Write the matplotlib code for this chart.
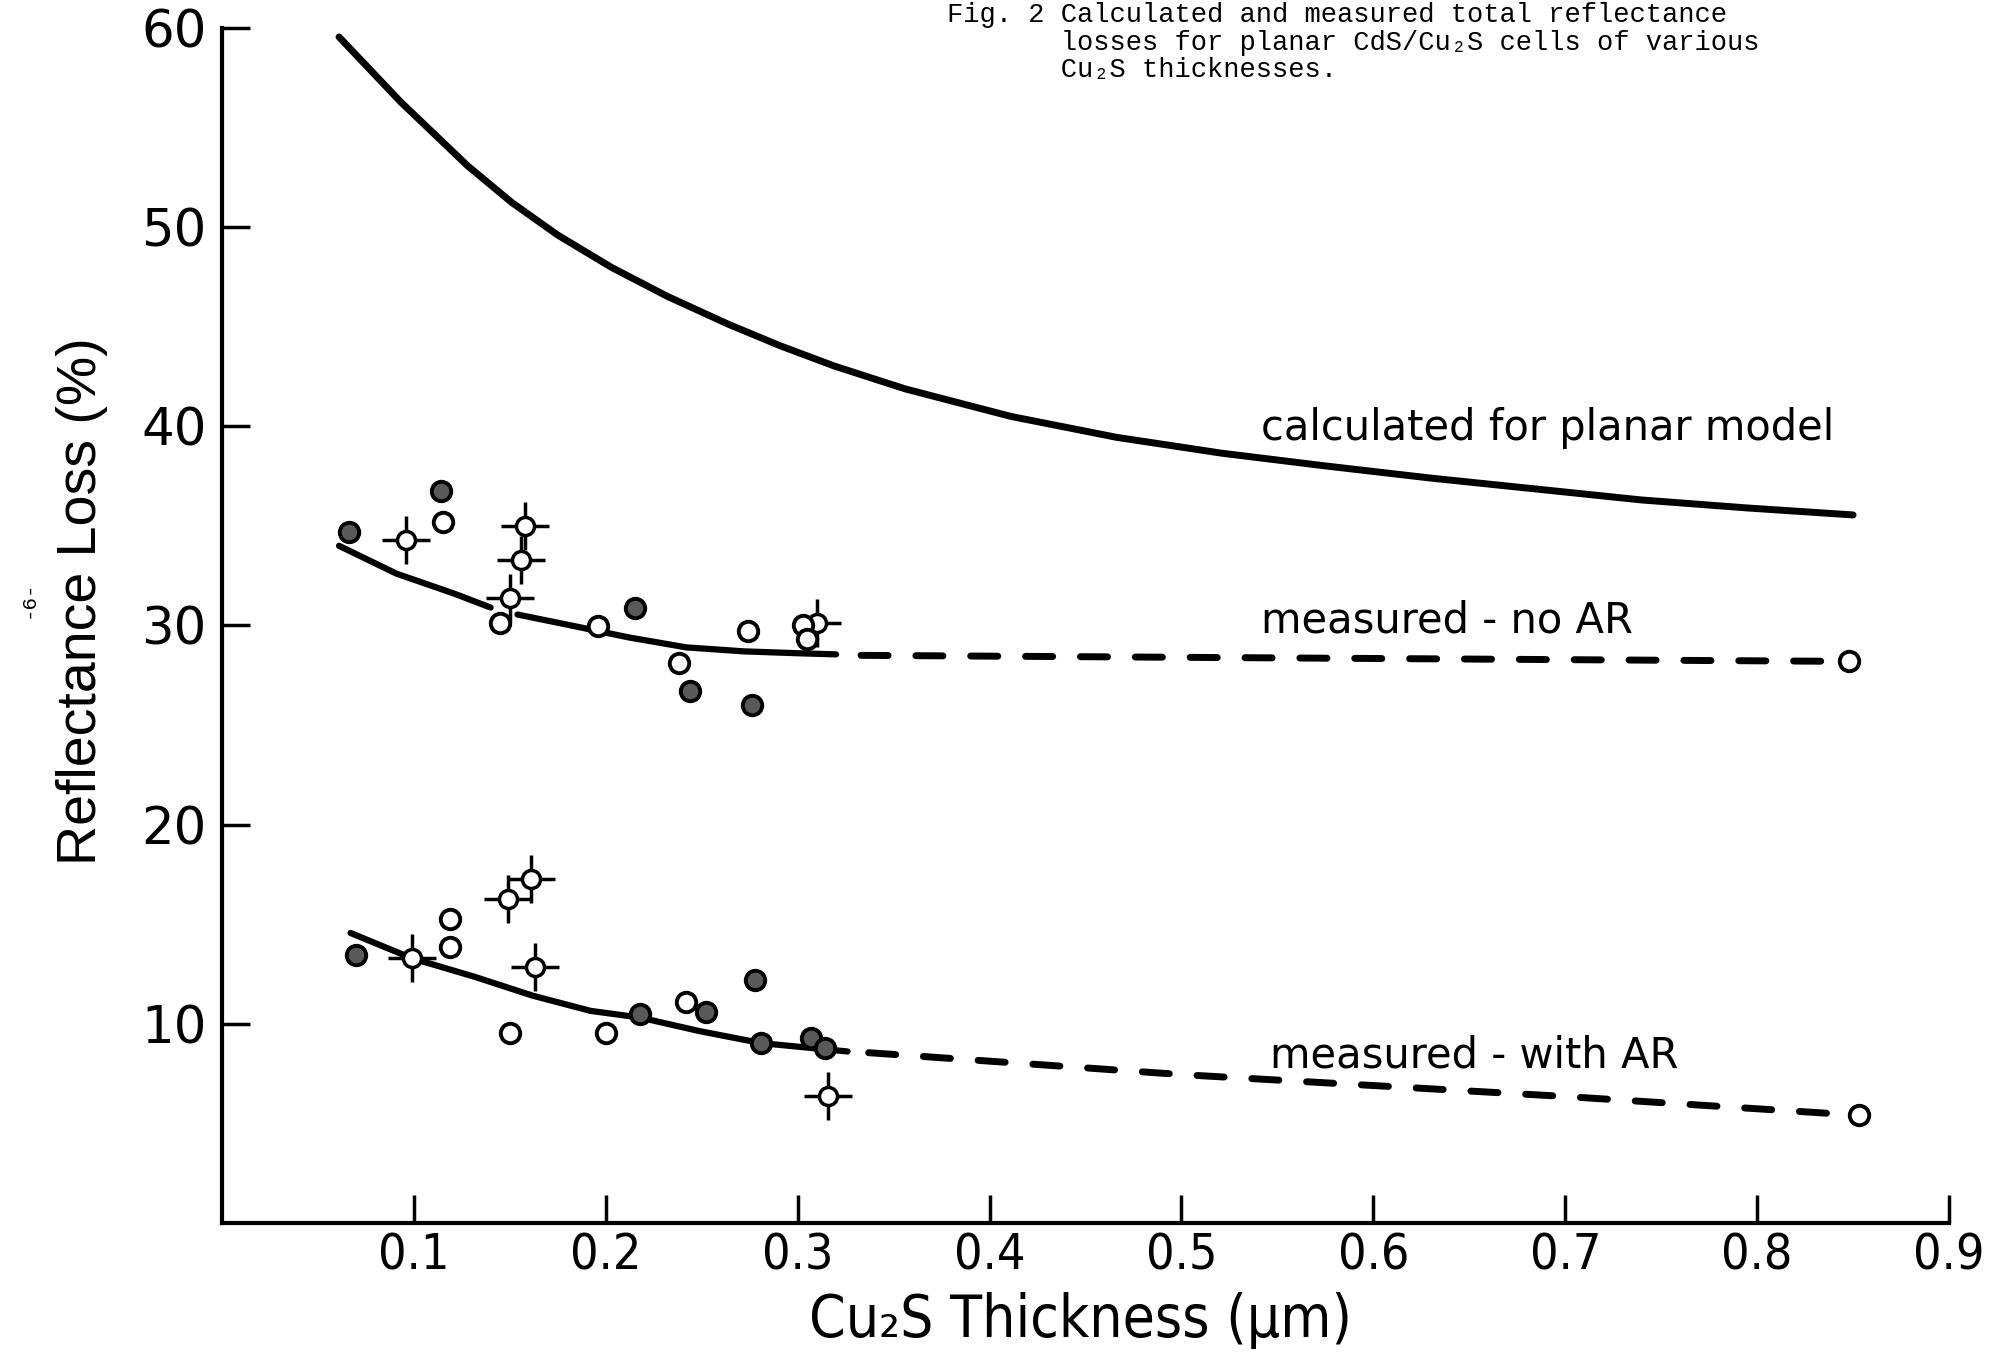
import numpy as np
import matplotlib.pyplot as plt

# calculated curve for planar model
calc_x = [0.061, 0.093, 0.128, 0.151, 0.175, 0.203, 0.232, 0.264, 0.291, 0.319,
          0.356, 0.411, 0.466, 0.521, 0.576, 0.630, 0.685, 0.740, 0.795, 0.850]
calc_y = [59.55, 56.3, 53.08, 51.24, 49.6, 47.98, 46.53, 45.12, 44.04, 43.03,
          41.88, 40.5, 39.45, 38.65, 38.0, 37.4, 36.85, 36.3, 35.9, 35.55]

# measured - no AR: drawn fit (two solid pieces) + dashed extension
noar_fit1_x = [0.061, 0.091, 0.121, 0.140]
noar_fit1_y = [34.0, 32.6, 31.6, 30.9]
noar_fit2_x = [0.154, 0.182, 0.212, 0.242, 0.272, 0.302, 0.320]
noar_fit2_y = [30.55, 30.0, 29.4, 28.9, 28.7, 28.6, 28.55]
noar_ext_x = [0.333, 0.843]
noar_ext_y = [28.5, 28.2]
noar_end = (0.848, 28.2)

noar_filled_x = [0.066, 0.114, 0.215, 0.244, 0.276]
noar_filled_y = [34.7, 36.75, 30.9, 26.7, 26.0]
noar_open_x = [0.115, 0.145, 0.196, 0.238, 0.274, 0.303, 0.305]
noar_open_y = [35.2, 30.1, 29.95, 28.1, 29.7, 30.0, 29.3]
noar_cross_x = [0.096, 0.158, 0.156, 0.150, 0.310]
noar_cross_y = [34.3, 35.0, 33.3, 31.4, 30.1]

# measured - with AR
ar_fit_x = [0.067, 0.099, 0.132, 0.162, 0.192, 0.218, 0.249, 0.281, 0.326]
ar_fit_y = [14.56, 13.29, 12.35, 11.41, 10.65, 10.31, 9.63, 9.03, 8.61]
ar_ext_x = [0.337, 0.5, 0.7, 0.846]
ar_ext_y = [8.55, 7.45, 6.35, 5.45]
ar_end = (0.853, 5.4)

ar_filled_x = [0.070, 0.218, 0.252, 0.278, 0.281, 0.307, 0.314]
ar_filled_y = [13.45, 10.5, 10.57, 12.18, 9.03, 9.28, 8.77]
ar_open_x = [0.119, 0.119, 0.150, 0.200, 0.242]
ar_open_y = [15.24, 13.88, 9.55, 9.55, 11.07]
ar_cross_x = [0.099, 0.149, 0.161, 0.163, 0.316]
ar_cross_y = [13.3, 16.26, 17.28, 12.86, 6.4]

xticks = [0.1, 0.2, 0.3, 0.4, 0.5, 0.6, 0.7, 0.8, 0.9]
xticklabels = ['0.1', '0.2', '0.3', '0.4', '0.5', '0.6', '0.7', '0.8', '0.9']
yticks = [10, 20, 30, 40, 50, 60]

fig = plt.figure(figsize=(19.98, 13.59), dpi=100)
ax = fig.add_axes([0.1111, 0.1001, 0.8644, 0.8793])

lw = 5
ax.plot(calc_x, calc_y, '-', c='black', lw=lw, solid_capstyle='round', solid_joinstyle='round')
for fx, fy in [(noar_fit1_x, noar_fit1_y), (noar_fit2_x, noar_fit2_y), (ar_fit_x, ar_fit_y)]:
    ax.plot(fx, fy, '-', c='black', lw=4.5, solid_capstyle='round', solid_joinstyle='round')
for ex, ey in [(noar_ext_x, noar_ext_y), (ar_ext_x, ar_ext_y)]:
    ax.plot(ex, ey, c='black', lw=lw, dashes=(3.9, 4.0), dash_capstyle='round')

ms = 14
for px, py in [(noar_cross_x, noar_cross_y), (ar_cross_x, ar_cross_y)]:
    ax.plot(px, py, ls='none', marker='+', ms=34, mew=2.5, c='black', clip_on=False)
    ax.plot(px, py, ls='none', marker='o', ms=13, mew=2.5, mfc='white', mec='black', clip_on=False)
for px, py in [(noar_filled_x, noar_filled_y), (ar_filled_x, ar_filled_y)]:
    ax.plot(px, py, ls='none', marker='o', ms=ms, mew=2.8, mfc='0.35', mec='black', clip_on=False)
for px, py in [(noar_open_x, noar_open_y), (ar_open_x, ar_open_y)]:
    ax.plot(px, py, ls='none', marker='o', ms=ms, mew=2.8, mfc='white', mec='black', clip_on=False)
for px, py in [noar_end, ar_end]:
    ax.plot(px, py, ls='none', marker='o', ms=ms, mew=2.8, mfc='white', mec='black', clip_on=False)

ax.text(0.5415, 39.3, 'calculated for planar model', fontsize=30, family='DejaVu Sans', va='baseline')
ax.text(0.5417, 29.65, 'measured - no AR', fontsize=30, family='DejaVu Sans', va='baseline')
ax.text(0.546, 7.8, 'measured - with AR', fontsize=30, family='DejaVu Sans', va='baseline')

ax.set_xlim(0, 0.9)
ax.set_ylim(0, 60)
ax.spines['top'].set_visible(False)
ax.spines['right'].set_visible(False)
ax.spines['left'].set_linewidth(3)
ax.spines['bottom'].set_linewidth(3)

ax.set_xticks(xticks)
ax.set_xticklabels(xticklabels, family='DejaVu Sans', stretch='condensed', fontsize=36)
ax.set_yticks(yticks)
ax.set_yticklabels([str(v) for v in yticks], family='DejaVu Sans', fontsize=37)
ax.tick_params(axis='both', direction='in', length=20, width=2.5)
ax.tick_params(axis='x', pad=6)
ax.tick_params(axis='y', pad=11)

ax.set_xlabel('Cu\u2082S Thickness (\u03bcm)', family='DejaVu Sans', stretch='condensed', fontsize=42)
ax.xaxis.set_label_coords(0.497, -0.058)
ax.set_ylabel('Reflectance Loss (%)', family=['Liberation Sans', 'DejaVu Sans'], fontsize=40)
ax.yaxis.set_label_coords(-0.066, 0.52)

caption = ('Fig. 2 Calculated and measured total reflectance\n'
           '       losses for planar CdS/Cu\u2082S cells of various\n'
           '       Cu\u2082S thicknesses.')
fig.text(947 / 1998, 1 - 2 / 1359, caption, family=['Liberation Mono', 'DejaVu Sans Mono'],
         fontsize=19.5, va='top', ha='left', linespacing=1.08)
fig.text(28 / 1998, 1 - 599 / 1359, '-6-', family=['Liberation Mono', 'DejaVu Sans Mono'],
         fontsize=15, rotation=90, ha='center', va='center')

fig.savefig('out.png', dpi=100)
